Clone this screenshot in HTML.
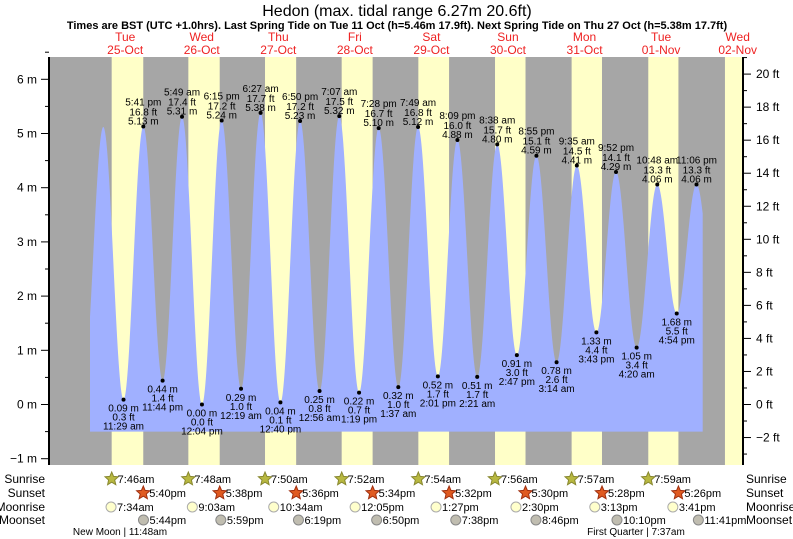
<!DOCTYPE html>
<html><head><meta charset="utf-8">
<style>
html,body{margin:0;padding:0;background:#fff;}
svg{display:block;font-family:"Liberation Sans",sans-serif;}
</style></head>
<body>
<svg id="chart" width="793" height="539" viewBox="0 0 793 539" xmlns="http://www.w3.org/2000/svg">
<text x="397" y="16" text-anchor="middle" font-size="16" fill="#000">Hedon (max. tidal range 6.27m 20.6ft)</text>
<text x="397" y="29" text-anchor="middle" font-size="11" font-weight="bold" fill="#000">Times are BST (UTC +1.0hrs). Last Spring Tide on Tue 11 Oct (h=5.46m 17.9ft). Next Spring Tide on Thu 27 Oct (h=5.38m 17.7ft)</text>
<g id="bg"></g>
<g id="tide"></g>
<g id="axes"></g>
<g id="labels"></g>
<g id="astro"></g>
</svg>
<script>
// ---- data ----
const dayNames = ["Tue","Wed","Thu","Fri","Sat","Sun","Mon","Tue","Wed"];
const dayDates = ["25-Oct","26-Oct","27-Oct","28-Oct","29-Oct","30-Oct","31-Oct","01-Nov","02-Nov"];
const sunriseTimes = ["7:46am","7:48am","7:50am","7:52am","7:54am","7:56am","7:57am","7:59am","8:01am"];
const sunsetTimes = ["5:40pm","5:38pm","5:36pm","5:34pm","5:32pm","5:30pm","5:28pm","5:26pm","5:24pm"];
const moonriseTimes = ["7:34am","9:03am","10:34am","12:05pm","1:27pm","2:30pm","3:13pm","3:41pm"];
const moonsetTimes = ["5:44pm","5:59pm","6:19pm","6:50pm","7:38pm","8:46pm","10:10pm","11:41pm"];
// tide extremes: day offset from 25-Oct, time, height (m), feet, labelled?
const tideDay = [-1,0,0,0,0,1,1,1,2,2,2,2,3,3,3,3,4,4,4,4,5,5,5,5,6,6,6,6,7,7,7,7,8];
const tideTime = ["10:50 pm","5:08 am","11:29 am","5:41 pm","11:44 pm","5:49 am","12:04 pm","6:15 pm","12:19 am","6:27 am","12:40 pm","6:50 pm","12:56 am","7:07 am","1:19 pm","7:28 pm","1:37 am","7:49 am","2:01 pm","8:09 pm","2:21 am","8:38 am","2:47 pm","8:55 pm","3:14 am","9:35 am","3:43 pm","9:52 pm","4:20 am","10:48 am","4:54 pm","11:06 pm","5:30 am"];
const tideHeight = [0.40,5.12,0.09,5.13,0.44,5.31,0.00,5.24,0.29,5.38,0.04,5.23,0.25,5.32,0.22,5.10,0.32,5.12,0.52,4.88,0.51,4.80,0.91,4.59,0.78,4.41,1.33,4.29,1.05,4.06,1.68,4.06,1.50];
const tideFeet = ["1.3","16.8","0.3","16.8","1.4","17.4","0.0","17.2","1.0","17.7","0.1","17.2","0.8","17.5","0.7","16.7","1.0","16.8","1.7","16.0","1.7","15.7","3.0","15.1","2.6","14.5","4.4","14.1","3.4","13.3","5.5","13.3","4.9"];
const tideShown = [0,0,1,1,1,1,1,1,1,1,1,1,1,1,1,1,1,1,1,1,1,1,1,1,1,1,1,1,1,1,1,1,0];
const mTicks = [-1,0,1,2,3,4,5,6];
const ftTicks = [-2,0,2,4,6,8,10,12,14,16,18,20];

// ---- scales ----
const X0=86.9, PXH=3.19, Y0=404.5, PXM=54.2;
const PL=49, PR=743, PT=57, PB=465;
const x = t => X0 + t*PXH;
const y = m => Y0 - m*PXM;
const yft = f => Y0 - f*PXM/3.28084;
function parseT(s){
  const m=s.match(/(\d+):(\d+)\s*(am|pm)/); let h=+m[1]%12; if(m[3]==="pm") h+=12; return h+ (+m[2])/60;
}
const NS="http://www.w3.org/2000/svg";
function mk(tag,attrs,parent,text){
  const e=document.createElementNS(NS,tag);
  for(const k in attrs) e.setAttribute(k,attrs[k]);
  if(text!==undefined) e.textContent=text;
  parent.appendChild(e); return e;
}
const bg=document.getElementById('bg'), tide=document.getElementById('tide'),
      axes=document.getElementById('axes'), labels=document.getElementById('labels'),
      astro=document.getElementById('astro');

// background night
let r=mk('rect',{x:PL,y:PT,width:PR-PL,height:PB-PT,fill:'#a6a6a6'},bg);


// daylight bands
for(let d=0; d<dayNames.length; d++){
  const a=x(d*24+parseT(sunriseTimes[d])), b=Math.min(PR,x(d*24+parseT(sunsetTimes[d])));
  const band=mk('rect',{x:a,y:PT,width:b-a,height:PB-PT,fill:'#ffffc8'},bg);
  
  
  const l1=mk('text',{x:x(d*24+12),y:41,'text-anchor':'middle','font-size':12,fill:'#ee2222'},labels,dayNames[d]);
  
  
  const l2=mk('text',{x:x(d*24+12),y:54,'text-anchor':'middle','font-size':12,fill:'#ee2222'},labels,dayDates[d]);
  
  
}

// tide curve
const ts=tideDay.map((d,i)=>d*24+parseT(tideTime[i]));
const tStart=(90-X0)/PXH, tEnd=(702.7-X0)/PXH;
function h(t){
  for(let i=0;i<ts.length-1;i++){
    if(t>=ts[i]&&t<=ts[i+1]){
      const f=(t-ts[i])/(ts[i+1]-ts[i]);
      return tideHeight[i]+(tideHeight[i+1]-tideHeight[i])*(1-Math.cos(Math.PI*f))/2;
    }
  }
  return 0;
}
let dstr=`M${x(tStart)},${y(-0.5)}`;
for(let t=tStart;t<=tEnd;t+=0.1) dstr+=` L${x(t).toFixed(2)},${y(h(t)).toFixed(2)}`;
dstr+=` L${x(tEnd).toFixed(2)},${y(h(tEnd)).toFixed(2)} L${x(tEnd)},${y(-0.5)} Z`;
const area=mk('path',{d:dstr,fill:'#a0b0ff'},tide);



// extreme points + labels
for(let i=0;i<ts.length;i++){
  if(!tideShown[i]) continue;
  const px=x(ts[i]), py=y(tideHeight[i]);
  const hi = i>0 && tideHeight[i]>tideHeight[i-1];
  const dot=mk('circle',{cx:px,cy:py,r:2,fill:'#000'},labels);
  
  
  const lines = hi ? [tideTime[i], tideFeet[i]+' ft', tideHeight[i].toFixed(2)+' m']
                   : [tideHeight[i].toFixed(2)+' m', tideFeet[i]+' ft', tideTime[i]];
  const offs = hi ? [-21,-11,-2] : [12,21,30];
  for(let k=0;k<3;k++){
    const tx=mk('text',{x:px,y:py+offs[k],'text-anchor':'middle','font-size':10,fill:'#000'},labels,lines[k]);
    
    
  }
}

// axes
let ax=mk('line',{x1:PL,y1:PT,x2:PL,y2:PB,stroke:'#000','stroke-width':2},axes);


ax=mk('line',{x1:PR,y1:PT,x2:PR,y2:PB,stroke:'#000','stroke-width':2},axes);


for(let m=-1;m<=6.5;m+=0.5){
  const major=Number.isInteger(m);
  mk('line',{x1:major?41:45,y1:y(m),x2:PL,y2:y(m),stroke:'#000'},axes);
}
mTicks.forEach(m=>{
  const t=mk('text',{x:37,y:y(m)+4,'text-anchor':'end','font-size':12,fill:'#000'},axes,(m<0?'\u22121':m)+' m');
  
  
});
for(let f=-3;f<=21;f+=1){
  const major=f%2===0;
  mk('line',{x1:PR,y1:yft(f),x2:major?751:747,y2:yft(f),stroke:'#000'},axes);
}
ftTicks.forEach(f=>{
  const t=mk('text',{x:756,y:yft(f)+4,'text-anchor':'start','font-size':12,fill:'#000'},axes,(f<0?'\u2212'+(-f):f)+' ft');
  
  
});

// astro rows
const rows=[["Sunrise",479],["Sunset",493],["Moonrise",507],["Moonset",520]];
rows.forEach(([n,yy])=>{
  let t=mk('text',{x:45,y:yy+4,'text-anchor':'end','font-size':12,fill:'#000'},astro,n);
  
  
  t=mk('text',{x:746,y:yy+4,'text-anchor':'start','font-size':12,fill:'#000'},astro,n);
  
  
});
function star(cx,cy,fill,stroke){
  let p='';
  for(let k=0;k<10;k++){const a=-Math.PI/2+k*Math.PI/5, rr=k%2?3.2:7; p+=(cx+rr*Math.cos(a)).toFixed(1)+','+(cy+rr*Math.sin(a)).toFixed(1)+' ';}
  return mk('polygon',{points:p,fill:fill,stroke:stroke,'stroke-width':1},astro);
}
for(let d=0; d<8; d++){
  let sx=x(d*24+parseT(sunriseTimes[d]));
  let s=star(sx,479,'#b8b840','#888830');
  
  
  let t=mk('text',{x:sx+6,y:483,'font-size':11,fill:'#000'},astro,sunriseTimes[d]);
  
  
  sx=x(d*24+parseT(sunsetTimes[d]));
  s=star(sx,493,'#e05a20','#a03010');
  
  
  t=mk('text',{x:sx+6,y:497,'font-size':11,fill:'#000'},astro,sunsetTimes[d]);
  
  
  sx=x(d*24+parseT(moonriseTimes[d]));
  s=mk('circle',{cx:sx,cy:507,r:5,fill:'#ffffcc',stroke:'#aaa'},astro);
  
  
  t=mk('text',{x:sx+6,y:511,'font-size':11,fill:'#000'},astro,moonriseTimes[d]);
  
  
  sx=x(d*24+parseT(moonsetTimes[d]));
  s=mk('circle',{cx:sx,cy:520,r:5,fill:'#c0bdb0',stroke:'#888'},astro);
  
  
  t=mk('text',{x:sx+6,y:524,'font-size':11,fill:'#000'},astro,moonsetTimes[d]);
  
  
}
let ph=mk('text',{x:120,y:535,'text-anchor':'middle','font-size':10,fill:'#000'},astro,'New Moon | 11:48am');


ph=mk('text',{x:636,y:535,'text-anchor':'middle','font-size':10,fill:'#000'},astro,'First Quarter | 7:37am');


</script>
</body></html>
